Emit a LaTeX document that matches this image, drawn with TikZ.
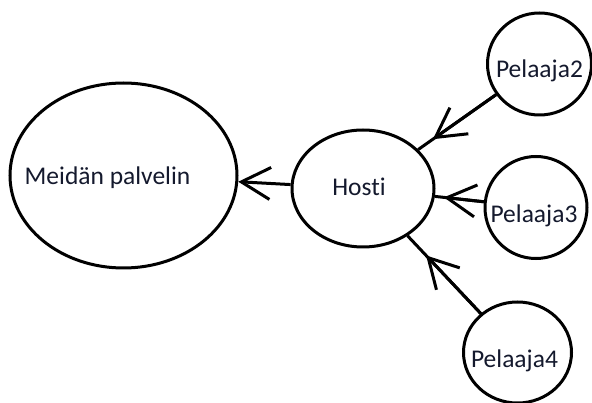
\documentclass[tikz,border=0pt]{standalone}
\usepackage{fontspec}
\setmainfont{Carlito}[RawFeature={-liga;-clig}]
\usetikzlibrary{shapes.geometric,arrows.meta}
\definecolor{txtc}{RGB}{20,25,45}
\begin{document}
\begin{tikzpicture}[x=1pt,y=-1pt,
  bub/.style={draw, ellipse, line width=3pt, inner sep=0pt},
  lbl/.style={font=\fontsize{25.5}{30}\selectfont, text=txtc, anchor=base},
  conn/.style={line width=3pt},
  tipc/.style={line width=3pt, -{Straight Barb[length=29pt,width=32pt]}}
]
\useasboundingbox (0,0) rectangle (592,403);
\node[bub, minimum width=227pt, minimum height=185pt,
  label={[lbl, xshift=-16pt, yshift=-2pt]center:Meidän palvelin}] (srv) at (123.5,175.5) {};
\node[bub, minimum width=142pt, minimum height=117pt,
  label={[lbl, xshift=-4pt, yshift=2pt]center:Hosti}] (host) at (363,188.5) {};
\node[bub, minimum width=104pt, minimum height=102pt,
  label={[lbl, xshift=0pt, yshift=-6.5pt]center:Pelaaja2}] (p2) at (539.5,64) {};
\node[bub, minimum width=102pt, minimum height=102pt,
  label={[lbl, xshift=-2pt, yshift=-8pt]center:Pelaaja3}] (p3) at (536,207.5) {};
\node[bub, minimum width=108pt, minimum height=101pt,
  label={[lbl, xshift=-3pt, yshift=-8pt]center:Pelaaja4}] (p4) at (517.5,352.5) {};
% Hosti -> palvelin
\draw[tipc] (host) -- (srv);
% Pelaajat -> Hosti
\draw[conn] (p2) -- (host);
\draw[tipc, shorten >=18pt] (p2) -- (host);
\draw[conn] (p3) -- (host);
\draw[tipc, shorten >=9pt] (p3) -- (host);
\draw[conn] (p4) -- (host);
\draw[tipc, shorten >=27pt] (p4) -- (host);
\end{tikzpicture}
\end{document}
